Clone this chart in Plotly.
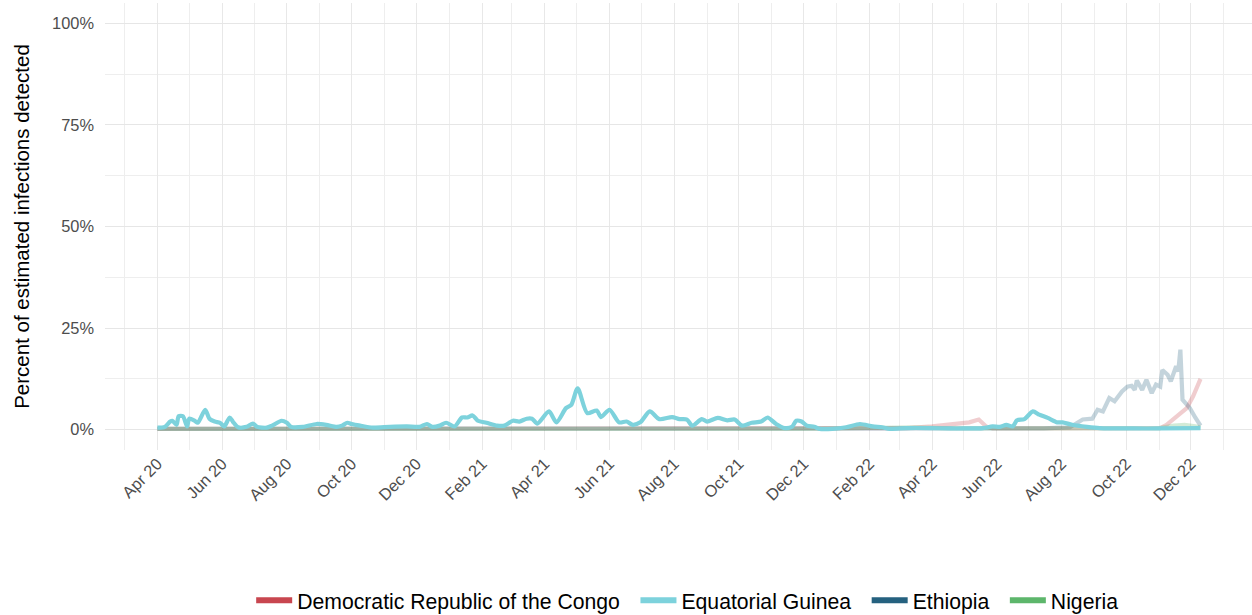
import plotly.graph_objects as go

# ---------------- data (percent of estimated infections detected) ----------------
countries = ["Democratic Republic of the Congo", "Equatorial Guinea", "Ethiopia", "Nigeria"]
colors = ["#C8464F", "#7DD2DC", "#25617F", "#5DB66B"]

eg_dates = ["2020-04-01", "2020-04-08", "2020-04-13", "2020-04-15", "2020-04-19", "2020-04-21",
            "2020-04-25", "2020-04-29", "2020-05-01", "2020-05-06", "2020-05-09", "2020-05-16",
            "2020-05-20", "2020-05-25", "2020-05-30", "2020-06-03", "2020-06-08", "2020-06-11",
            "2020-06-16", "2020-06-24", "2020-06-30", "2020-07-04", "2020-07-13", "2020-07-18",
            "2020-07-27", "2020-08-01", "2020-08-05", "2020-08-16", "2020-08-29", "2020-09-07",
            "2020-09-17", "2020-09-22", "2020-09-27", "2020-10-01", "2020-10-09", "2020-10-21",
            "2020-11-06", "2020-11-22", "2020-12-04", "2020-12-11", "2020-12-16", "2020-12-23",
            "2020-12-29", "2021-01-06", "2021-01-13", "2021-01-18", "2021-01-23", "2021-01-28",
            "2021-02-05", "2021-02-15", "2021-02-22", "2021-03-02", "2021-03-08", "2021-03-15",
            "2021-03-20", "2021-03-25", "2021-04-05", "2021-04-12", "2021-04-21", "2021-04-26",
            "2021-05-02", "2021-05-11", "2021-05-20", "2021-05-24", "2021-06-01", "2021-06-10",
            "2021-06-17", "2021-06-23", "2021-06-30", "2021-07-09", "2021-07-18", "2021-07-30",
            "2021-08-06", "2021-08-13", "2021-08-18", "2021-08-27", "2021-09-01", "2021-09-11",
            "2021-09-20", "2021-09-27", "2021-10-04", "2021-10-13", "2021-10-22", "2021-10-28",
            "2021-11-05", "2021-11-13", "2021-11-20", "2021-11-24", "2021-11-29", "2021-12-04",
            "2021-12-11", "2021-12-16", "2021-12-28", "2022-01-10", "2022-01-23", "2022-02-04",
            "2022-02-13", "2022-02-20", "2022-03-08", "2022-03-30", "2022-04-18", "2022-05-01",
            "2022-05-19", "2022-05-28", "2022-06-04", "2022-06-10", "2022-06-16", "2022-06-20",
            "2022-06-27", "2022-07-05", "2022-07-11", "2022-07-19", "2022-07-28", "2022-08-02",
            "2022-08-11", "2022-08-25", "2022-09-06", "2022-10-07", "2022-11-02", "2022-12-10"]
eg_values = [0.5, 0.7, 2.0, 2.2, 1.2, 3.3,
             3.3, 0.8, 2.7, 2.2, 1.7, 4.9,
             2.7, 2.0, 1.7, 0.8, 3.0, 2.0,
             0.6, 0.7, 1.5, 0.7, 0.5, 1.0,
             2.2, 1.7, 0.7, 0.7, 1.4, 1.2,
             0.7, 1.0, 1.7, 1.4, 1.0, 0.5,
             0.7, 0.8, 0.7, 1.4, 0.7, 1.0,
             1.7, 0.8, 3.0, 3.0, 3.5, 2.2,
             1.7, 1.0, 1.0, 2.2, 2.0, 2.7,
             2.7, 1.5, 4.5, 1.8, 5.3, 6.1,
             10.2, 4.1, 4.7, 3.1, 4.9, 1.8,
             2.0, 1.2, 1.8, 4.5, 2.6, 3.1,
             2.6, 2.5, 1.0, 2.6, 2.0, 2.9,
             2.3, 2.5, 1.0, 1.7, 2.0, 3.0,
             1.4, 0.4, 0.7, 2.2, 2.0, 1.0,
             0.7, 0.2, 0.2, 0.6, 1.4, 0.8,
             0.6, 0.2, 0.4, 0.4, 0.3, 0.3,
             0.4, 0.8, 0.7, 1.2, 0.8, 2.3,
             2.6, 4.5, 3.7, 2.9, 1.8, 1.8,
             1.2, 0.7, 0.4, 0.3, 0.3, 0.4]

drc_dates = ["2020-04-01", "2020-07-01", "2020-10-01", "2021-01-01", "2021-04-01", "2021-07-01",
             "2021-10-01", "2022-01-01", "2022-03-08", "2022-04-01", "2022-04-27", "2022-05-06",
             "2022-05-15", "2022-05-22", "2022-05-28", "2022-08-01", "2022-10-30", "2022-11-02",
             "2022-11-08", "2022-11-14", "2022-11-21", "2022-11-27", "2022-12-03", "2022-12-10"]
drc_values = [0.2, 0.2, 0.2, 0.2, 0.2, 0.2,
              0.2, 0.2, 0.4, 0.8, 1.4, 1.8,
              2.5, 0.8, 0.3, 0.3, 0.3, 0.4,
              1.2, 2.5, 3.7, 5.3, 8.2, 12.5]

eth_dates = ["2020-04-01", "2020-08-01", "2020-12-01", "2021-04-01", "2021-08-01", "2021-12-01",
             "2022-04-01", "2022-07-15", "2022-07-31", "2022-08-09", "2022-08-21", "2022-08-30",
             "2022-09-04", "2022-09-09", "2022-09-15", "2022-09-20", "2022-09-27", "2022-10-02",
             "2022-10-06", "2022-10-09", "2022-10-11", "2022-10-16", "2022-10-20", "2022-10-25",
             "2022-10-29", "2022-11-02", "2022-11-04", "2022-11-09", "2022-11-12", "2022-11-17",
             "2022-11-19", "2022-11-21", "2022-11-23", "2022-11-30", "2022-12-05", "2022-12-10"]
eth_values = [0.2, 0.2, 0.2, 0.2, 0.2, 0.2,
              0.2, 0.3, 0.5, 0.6, 2.5, 2.7,
              4.9, 4.5, 7.8, 7.0, 9.4, 10.6,
              10.8, 9.8, 12.1, 9.8, 12.3, 9.0,
              11.1, 10.6, 14.7, 13.5, 11.9, 15.6,
              14.3, 19.7, 7.4, 5.3, 3.0, 1.0]

nga_dates = ["2020-04-01", "2020-09-01", "2021-02-01", "2021-07-01", "2021-12-01", "2022-03-15",
             "2022-04-10", "2022-08-01", "2022-11-01", "2022-11-15", "2022-11-25", "2022-12-05",
             "2022-12-10"]
nga_values = [0.2, 0.2, 0.2, 0.2, 0.2, 0.6,
              0.4, 0.3, 0.4, 1.0, 1.2, 0.8,
              0.5]

y_ticks = [0, 25, 50, 75, 100]
y_tick_labels = ["0%", "25%", "50%", "75%", "100%"]


def faded(hex_color, alpha):
    h = hex_color.lstrip("#")
    r, g, b = int(h[0:2], 16), int(h[2:4], 16), int(h[4:6], 16)
    return f"rgba({r},{g},{b},{alpha})"


fig = go.Figure()

series = {
    "Democratic Republic of the Congo": (drc_dates, drc_values),
    "Equatorial Guinea": (eg_dates, eg_values),
    "Ethiopia": (eth_dates, eth_values),
    "Nigeria": (nga_dates, nga_values),
}

# faded (background) countries first
for name, col in zip(countries, colors):
    if name == "Equatorial Guinea":
        continue
    d, v = series[name]
    fig.add_trace(go.Scatter(x=d, y=v, mode="lines", showlegend=False,
                             line=dict(color=faded(col, 0.27), width=4.2),
                             hoverinfo="skip"))

# highlighted country on top
d, v = series["Equatorial Guinea"]
fig.add_trace(go.Scatter(x=d, y=v, mode="lines", showlegend=False,
                         line=dict(color=colors[1], width=4.2, shape="spline", smoothing=0.7)))

# legend entries (full colour); a trailing en space widens the gap between entries
for i, (name, col) in enumerate(zip(countries, colors)):
    label = name + ("\u2002" if i < len(countries) - 1 else "")
    fig.add_trace(go.Scatter(x=[None], y=[None], mode="lines", name=label,
                             line=dict(color=col, width=6)))

font_family = "Liberation Sans, Arial, sans-serif"

fig.update_layout(
    width=1252, height=615,
    margin=dict(l=105, r=0, t=3, b=165, autoexpand=False),
    paper_bgcolor="white", plot_bgcolor="white",
    font=dict(family=font_family, color="#000000"),
    showlegend=True,
    legend=dict(orientation="h", xref="paper", yref="paper",
                x=0.508, xanchor="center", y=-0.3368, yanchor="middle",
                font=dict(size=21.2, color="#000000"), itemwidth=36,
                traceorder="normal", bgcolor="rgba(0,0,0,0)"),
    xaxis=dict(
        type="date", automargin=False,
        range=["2020-02-11 14:00", "2023-01-27 12:00"],
        tick0="2020-04-01", dtick="M2", tickformat="%b %y",
        tickangle=-45, ticks="",
        tickfont=dict(size=16.4, color="#4D4D4D", family=font_family),
        showgrid=True, gridcolor="#E8E8E8", gridwidth=1.4,
        minor=dict(dtick="M1", tick0="2020-03-01", showgrid=True,
                   gridcolor="#EEEEEE", gridwidth=1),
        zeroline=False, showline=False,
    ),
    yaxis=dict(
        range=[-5, 105], automargin=False,
        tickvals=y_ticks, ticktext=y_tick_labels, ticks="",
        tickfont=dict(size=16.4, color="#4D4D4D", family=font_family),
        ticklabelstandoff=10,
        showgrid=True, gridcolor="#E6E6E6", gridwidth=1.4,
        minor=dict(tickvals=[12.5, 37.5, 62.5, 87.5], showgrid=True,
                   gridcolor="#EEEEEE", gridwidth=1),
        zeroline=False, showline=False,
        title=dict(text="Percent of estimated infections detected",
                   font=dict(size=20.5, color="#000000", family=font_family),
                   standoff=16),
    ),
)

fig.write_html("out.html", config={"displayModeBar": False},
               post_script="document.body.style.margin='0';document.body.style.overflow='hidden';")
